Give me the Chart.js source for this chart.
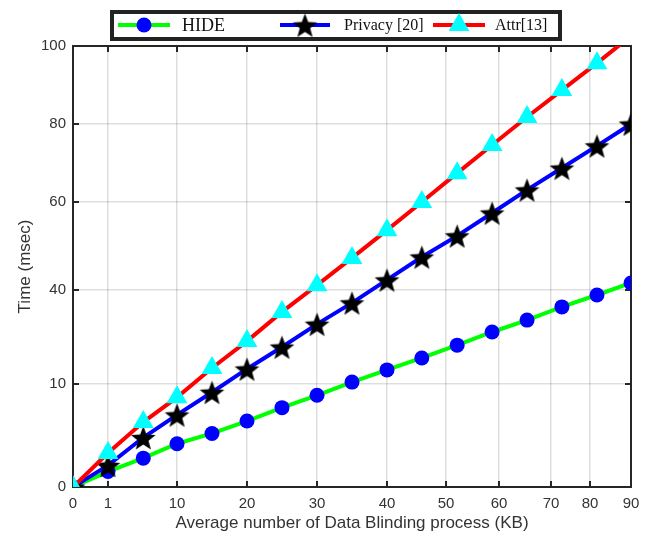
<!DOCTYPE html>
<html>
<head>
<meta charset="utf-8">
<script src="https://cdn.jsdelivr.net/npm/chart.js@4/dist/chart.umd.min.js"></script>
<style>
    html, body { margin: 0; padding: 0; background: #fff; }
    #wrap { width: 656px; height: 542px; }
</style>
</head>
<body>
<div id="wrap"><canvas id="timeChart"></canvas></div>
<script>
// values (x in KB, y in msec, on the figure's own uneven axes)
const xValues = [0, 1, 5.6, 10, 15, 20, 25, 30, 35, 40, 45.9, 52.1, 58.7, 65.4, 72.8, 81.7, 90];
const hideTimes = [0, 1.5, 2.8, 4.2, 5.2, 6.4, 7.7, 8.9, 10.6, 14.5, 18.3, 22.4, 26.6, 30.4, 34.6, 38.4, 41.6];
const privacyTimes = [0, 2.1, 4.8, 7.0, 9.2, 14.8, 21.8, 29.1, 35.9, 42.3, 47.5, 52.3, 57.5, 63.1, 68.7, 74.4, 80];
const attrTimes = [0, 3.3, 6.3, 8.7, 15.1, 23.7, 33.0, 41.1, 47.3, 53.6, 60, 67.4, 74.6, 81.8, 88.7, 95.6, 102.6];

const seriesNames = ['HIDE', 'Privacy [20]', 'Attr[13]'];
const xTicks = [0, 1, 10, 20, 30, 40, 50, 60, 70, 80, 90];
const yTicks = [0, 10, 40, 60, 80, 100];

// where each tick sits along its axis (fraction of the axis length)
const axisBreaks = {
    x: { values: xTicks, fracs: [0, 0.0627, 0.1864, 0.3118, 0.4373, 0.5627, 0.6685, 0.7634, 0.8566, 0.9265, 1] },
    y: { values: yTicks, fracs: [0, 0.2336, 0.4467, 0.6463, 0.8231, 1] }
};

const colors = {
    text: '#333333',
    axis: '#262626',
    grid: 'rgba(0,0,0,0.13)',
    green: '#00ff00',
    blue: '#0000ff',
    red: '#ff0000',
    cyan: '#00ffff',
    black: '#000000'
};

// piecewise linear axis so the uneven tick spacing of the figure is kept
class PiecewiseScale extends Chart.LinearScale {
    buildTicks() {
        return axisBreaks[this.id].values.map(v => ({ value: v }));
    }
    toDecimal(value) {
        const b = axisBreaks[this.id].values, f = axisBreaks[this.id].fracs;
        let i = 1;
        while (i < b.length - 1 && value > b[i]) i++;
        return f[i - 1] + (value - b[i - 1]) / (b[i] - b[i - 1]) * (f[i] - f[i - 1]);
    }
    getPixelForValue(value) {
        return this.getPixelForDecimal(this.toDecimal(value));
    }
    getValueForPixel(pixel) {
        const b = axisBreaks[this.id].values, f = axisBreaks[this.id].fracs;
        const d = this.getDecimalForPixel(pixel);
        let i = 1;
        while (i < f.length - 1 && d > f[i]) i++;
        return b[i - 1] + (d - f[i - 1]) / (f[i] - f[i - 1]) * (b[i] - b[i - 1]);
    }
}
PiecewiseScale.id = 'piecewise';
PiecewiseScale.defaults = Chart.LinearScale.defaults;
Chart.register(PiecewiseScale);

function makeStar(size) {
    const c = document.createElement('canvas');
    c.width = size;
    c.height = size;
    const g = c.getContext('2d');
    const cx = size / 2, R = size / 2 - 0.5, r = R * 0.42;
    g.fillStyle = colors.black;
    g.beginPath();
    for (let k = 0; k < 10; k++) {
        const a = -Math.PI / 2 + k * Math.PI / 5;
        const rad = k % 2 ? r : R;
        g.lineTo(cx + rad * Math.cos(a), cx + 1.5 + rad * Math.sin(a));
    }
    g.closePath();
    g.fill();
    return c;
}
const starImg = makeStar(27);

const toPoints = ys => ys.map((y, i) => ({ x: xValues[i], y: y }));

// axes box with inward tick marks, like the original figure
const boxPlugin = {
    id: 'box',
    beforeDatasetsDraw(chart) {
        const { ctx, chartArea: a, scales } = chart;
        const len = 6;
        ctx.save();
        ctx.strokeStyle = colors.axis;
        ctx.lineWidth = 2;
        ctx.beginPath();
        scales.x.ticks.forEach((t, i) => {
            const px = scales.x.getPixelForTick(i);
            ctx.moveTo(px, a.bottom); ctx.lineTo(px, a.bottom - len);
            ctx.moveTo(px, a.top); ctx.lineTo(px, a.top + len);
        });
        scales.y.ticks.forEach((t, i) => {
            const py = scales.y.getPixelForTick(i);
            ctx.moveTo(a.left, py); ctx.lineTo(a.left + len, py);
            ctx.moveTo(a.right, py); ctx.lineTo(a.right - len, py);
        });
        ctx.stroke();
        ctx.strokeRect(a.left, a.top, a.right - a.left, a.bottom - a.top);
        ctx.restore();
    }
};

const legendPlugin = {
    id: 'boxLegend',
    afterDraw(chart) {
        const ctx = chart.ctx;
        const box = { left: 112, top: 12, right: 560, bottom: 39 };
        const cy = 25;
        const items = [
            { line: [118, 170], mark: 144, text: 182, size: 18 },
            { line: [280, 330], mark: 305, text: 344, size: 16 },
            { line: [433, 485], mark: 459, text: 495, size: 16 }
        ];
        ctx.save();
        ctx.fillStyle = '#fff';
        ctx.fillRect(box.left, box.top, box.right - box.left, box.bottom - box.top);
        ctx.strokeStyle = '#222';
        ctx.lineWidth = 4;
        ctx.strokeRect(box.left, box.top, box.right - box.left, box.bottom - box.top);
        chart.data.datasets.forEach((ds, i) => {
            const it = items[i];
            ctx.strokeStyle = ds.borderColor;
            ctx.lineWidth = 4;
            ctx.beginPath();
            ctx.moveTo(it.line[0], cy);
            ctx.lineTo(it.line[1], cy);
            ctx.stroke();
            ctx.fillStyle = ds.pointBackgroundColor;
            if (ds.pointStyle === 'circle') {
                ctx.beginPath();
                ctx.arc(it.mark, cy, ds.pointRadius, 0, Math.PI * 2);
                ctx.fill();
            } else if (ds.pointStyle === 'triangle') {
                const r = ds.pointRadius;
                ctx.beginPath();
                for (let k = 0; k < 3; k++) {
                    const a = k * 2 * Math.PI / 3;
                    ctx.lineTo(it.mark + Math.sin(a) * r, cy - Math.cos(a) * r);
                }
                ctx.closePath();
                ctx.fill();
            } else {
                ctx.drawImage(starImg, it.mark - starImg.width / 2, cy - starImg.height / 2);
            }
            ctx.fillStyle = '#111';
            ctx.font = it.size + 'px "Liberation Serif", "Times New Roman", serif';
            ctx.textBaseline = 'middle';
            ctx.fillText(ds.label, it.text, cy + 1);
        });
        ctx.restore();
    }
};

const ctx = document.getElementById('timeChart').getContext('2d');
new Chart(ctx, {
    type: 'line',
    data: {
        datasets: [{
            label: seriesNames[0],
            data: toPoints(hideTimes),
            borderColor: colors.green,
            borderWidth: 4,
            pointStyle: 'circle',
            pointRadius: 7.5,
            pointBackgroundColor: colors.blue,
            pointBorderColor: colors.blue,
            pointBorderWidth: 0,
            order: 3
        }, {
            label: seriesNames[1],
            data: toPoints(privacyTimes),
            borderColor: colors.blue,
            borderWidth: 4,
            pointStyle: starImg,
            pointRadius: 12,
            pointBackgroundColor: colors.black,
            pointBorderWidth: 0,
            order: 2
        }, {
            label: seriesNames[2],
            data: toPoints(attrTimes),
            borderColor: colors.red,
            borderWidth: 4,
            pointStyle: 'triangle',
            pointRadius: 12,
            pointBackgroundColor: colors.cyan,
            pointBorderColor: colors.cyan,
            pointBorderWidth: 0,
            order: 1
        }]
    },
    options: {
        animation: false,
        responsive: true,
        maintainAspectRatio: false,
        layout: {
            padding: { top: 46, right: 25, left: 0, bottom: 0 }
        },
        plugins: {
            legend: { display: false },
            tooltip: { enabled: false }
        },
        scales: {
            x: {
                type: 'piecewise',
                min: 0,
                max: 90,
                afterFit: s => { s.height = 55; },
                border: { display: false },
                grid: { color: colors.grid, lineWidth: 1.5, drawTicks: false },
                ticks: {
                    autoSkip: false,
                    maxRotation: 0,
                    padding: 8,
                    color: colors.text,
                    font: { family: '"Liberation Sans", Arial, sans-serif', size: 15 },
                    callback: v => String(v)
                },
                title: {
                    display: true,
                    text: 'Average number of Data Blinding process (KB)',
                    color: colors.text,
                    font: { family: '"Liberation Sans", Arial, sans-serif', size: 17 },
                    padding: { top: 0, bottom: 8 }
                }
            },
            y: {
                type: 'piecewise',
                min: 0,
                max: 100,
                afterFit: s => { s.width = 73; },
                border: { display: false },
                grid: { color: colors.grid, lineWidth: 1.5, drawTicks: false },
                ticks: {
                    autoSkip: false,
                    padding: 7,
                    color: colors.text,
                    font: { family: '"Liberation Sans", Arial, sans-serif', size: 15 },
                    callback: v => String(v)
                },
                title: {
                    display: true,
                    text: 'Time (msec)',
                    color: colors.text,
                    font: { family: '"Liberation Sans", Arial, sans-serif', size: 17 },
                    padding: { top: 15, bottom: 0 }
                }
            }
        }
    },
    plugins: [boxPlugin, legendPlugin]
});
</script>
</body>
</html>
